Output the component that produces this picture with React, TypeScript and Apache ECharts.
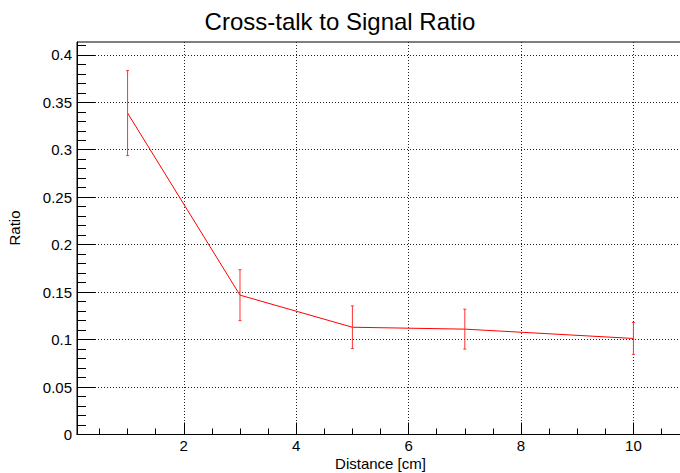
import React, { useEffect, useRef } from "react";
import * as echarts from "echarts";

const distances = [1, 3, 5, 7, 10];
const ratios = [0.3386, 0.1468, 0.1130, 0.1110, 0.1012];
const errors = [0.0448, 0.0268, 0.0225, 0.0210, 0.0168];
const xMajorTicks = [2, 4, 6, 8, 10];
const yMajorTicks = [0, 0.05, 0.1, 0.15, 0.2, 0.25, 0.3, 0.35, 0.4];
const xMinorTicks = [0.5, 1, 1.5, 2, 2.5, 3, 3.5, 4, 4.5, 5, 5.5, 6, 6.5, 7, 7.5, 8, 8.5, 9, 9.5, 10, 10.5];
const yMinorTicks = [
  0.01, 0.02, 0.03, 0.04, 0.05, 0.06, 0.07, 0.08, 0.09, 0.1, 0.11, 0.12, 0.13, 0.14,
  0.15, 0.16, 0.17, 0.18, 0.19, 0.2, 0.21, 0.22, 0.23, 0.24, 0.25, 0.26, 0.27, 0.28,
  0.29, 0.3, 0.31, 0.32, 0.33, 0.34, 0.35, 0.36, 0.37, 0.38, 0.39, 0.4, 0.41,
];

const FONT = "Liberation Sans, Arial, Helvetica, sans-serif";

export default function App() {
  const ref = useRef<HTMLDivElement>(null);
  useEffect(() => {
    if (!ref.current) return;
    const chart = echarts.init(ref.current, null, { renderer: "svg" });
    const xMin = 0.1;
    const xMax = 10.9;
    const yMin = 0;
    const yMax = 0.4135;
    const gridBox = { left: 77, top: 42, width: 607, height: 392.5 };
    const lineData = distances.map((d, i) => [d, ratios[i]]);
    const errData = distances.map((d, i) => [d, ratios[i] - errors[i], ratios[i] + errors[i]]);
    const option: any = {
      animation: false,
      backgroundColor: "#ffffff",
      title: {
        text: "Cross-talk to Signal Ratio",
        left: "center",
        top: 4,
        textStyle: { fontFamily: FONT, fontSize: 24, fontWeight: "normal", color: "#000" },
      },
      grid: {
        ...gridBox,
        outerBoundsMode: "none",
        containLabel: false,
        show: true,
        borderColor: "#000",
        borderWidth: 1,
        backgroundColor: "transparent",
      },
      xAxis: [
        {
          type: "value",
          min: xMin,
          max: xMax,
          axisLine: { show: true, onZero: false, lineStyle: { color: "#000", width: 1 } },
          axisTick: { show: true, inside: true, length: 12, customValues: xMajorTicks, lineStyle: { color: "#000" } },
          axisLabel: {
            show: true,
            customValues: xMajorTicks,
            margin: 3,
            fontFamily: FONT,
            fontSize: 15,
            lineHeight: 16,
            color: "#000",
          },
          splitLine: { show: true, lineStyle: { color: "#222", type: [1, 2], width: 1 } },
        },
        {
          type: "value",
          min: xMin,
          max: xMax,
          position: "bottom",
          axisLine: { show: false },
          axisTick: { show: true, inside: true, length: 6, customValues: xMinorTicks, lineStyle: { color: "#000" } },
          axisLabel: { show: false },
          splitLine: { show: false },
        },
      ],
      yAxis: [
        {
          type: "value",
          min: yMin,
          max: yMax,
          axisLine: { show: true, onZero: false, lineStyle: { color: "#000", width: 1 } },
          axisTick: { show: true, inside: true, length: 18, customValues: yMajorTicks, lineStyle: { color: "#000" } },
          axisLabel: {
            show: true,
            customValues: yMajorTicks,
            margin: 5,
            fontFamily: FONT,
            fontSize: 15,
            color: "#000",
          },
          splitLine: { show: true, lineStyle: { color: "#222", type: [1, 2], width: 1 } },
        },
        {
          type: "value",
          min: yMin,
          max: yMax,
          position: "left",
          axisLine: { show: false },
          axisTick: { show: true, inside: true, length: 9, customValues: yMinorTicks, lineStyle: { color: "#000" } },
          axisLabel: { show: false },
          splitLine: { show: false },
        },
      ],
      graphic: [
        {
          type: "text",
          x: 14,
          y: 228,
          rotation: Math.PI / 2,
          style: {
            text: "Ratio",
            fontFamily: FONT,
            fontSize: 15,
            fill: "#000",
            align: "center",
            verticalAlign: "middle",
          },
        },
        {
          type: "text",
          x: 380.5,
          y: 463,
          style: {
            text: "Distance [cm]",
            fontFamily: FONT,
            fontSize: 15,
            lineHeight: 16,
            fill: "#000",
            align: "center",
            verticalAlign: "middle",
          },
        },
      ],
      series: [
        {
          type: "line",
          data: lineData,
          xAxisIndex: 0,
          yAxisIndex: 0,
          showSymbol: false,
          symbol: "none",
          lineStyle: { color: "#ff0000", width: 1 },
          z: 3,
        },
        {
          type: "custom",
          xAxisIndex: 0,
          yAxisIndex: 0,
          data: errData,
          z: 4,
          renderItem: (params: any, api: any) => {
            const x = api.value(0);
            const lo = api.coord([x, api.value(1)]);
            const hi = api.coord([x, api.value(2)]);
            const cap = 1.5;
            const style = { stroke: "#ff3333", lineWidth: 1 };
            return {
              type: "group",
              children: [
                { type: "line", shape: { x1: lo[0], y1: lo[1], x2: hi[0], y2: hi[1] }, style },
                { type: "line", shape: { x1: lo[0] - cap, y1: lo[1], x2: lo[0] + cap, y2: lo[1] }, style },
                { type: "line", shape: { x1: hi[0] - cap, y1: hi[1], x2: hi[0] + cap, y2: hi[1] }, style },
              ],
            };
          },
        },
      ],
    };
    chart.setOption(option);
    return () => chart.dispose();
  }, []);
  return (
    <div
      ref={ref}
      style={{ position: "absolute", left: 0, top: 0, width: 680, height: 473, background: "#fff" }}
    />
  );
}
